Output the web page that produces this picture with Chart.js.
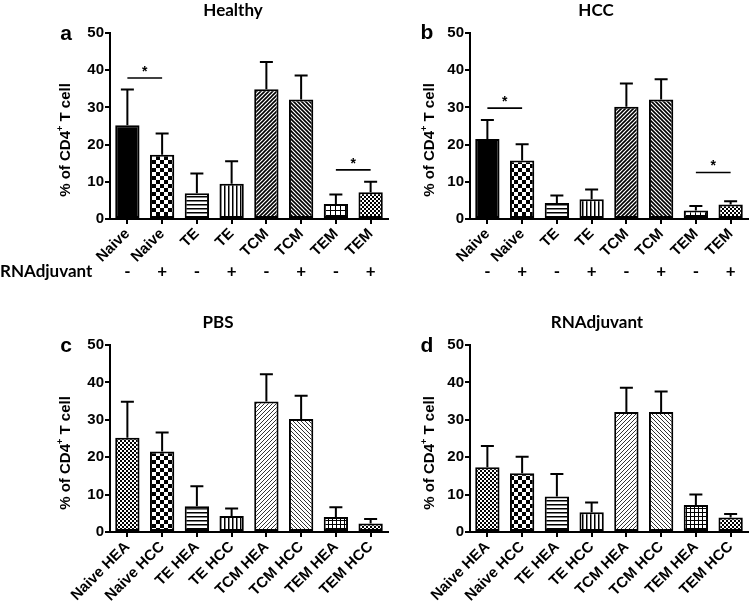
<!DOCTYPE html>
<html>
<head>
<meta charset="utf-8">
<script src="https://cdn.jsdelivr.net/npm/chart.js@4.4.1/dist/chart.umd.min.js"></script>
<style>
  html, body { margin: 0; padding: 0; background: #fff; }
  #wrap { position: relative; width: 751px; height: 601px; overflow: hidden; }
  canvas { position: absolute; }
</style>
</head>
<body>
<div id="wrap">
  <canvas id="panelA" style="left:0;top:0" width="400" height="300"></canvas>
  <canvas id="panelB" style="left:390px;top:0" width="361" height="300"></canvas>
  <canvas id="panelC" style="left:0;top:300px" width="400" height="301"></canvas>
  <canvas id="panelD" style="left:390px;top:300px" width="361" height="301"></canvas>
</div>
<script>
// mean and SD (% of CD4+ T cells), order: Naive, TE, TCM, TEM
const cellTypes = ['Naive', 'TE', 'TCM', 'TEM'];
const healthyPbsMean = [25.2, 6.9, 34.9, 4.0];
const healthyPbsSd = [9.6, 5.3, 7.3, 2.6];
const healthyRnaMean = [17.3, 9.5, 32.1, 7.2];
const healthyRnaSd = [5.7, 6.0, 6.5, 2.8];
const hccPbsMean = [21.5, 4.3, 30.2, 2.3];
const hccPbsSd = [5.1, 2.0, 6.2, 1.2];
const hccRnaMean = [15.7, 5.3, 32.1, 3.9];
const hccRnaSd = [4.4, 2.6, 5.5, 0.9];
const adjuvantSigns = ['-', '+'];
// significance bars: [from index, to index, height]
const sigHealthy = [[0, 1, 37.9], [6, 7, 13.2]];
const sigHcc = [[0, 1, 29.8], [6, 7, 12.5]];

const tickFont = 'Liberation Sans';
const titleFont = 'Lato';

function pairUp(a, b) {
    const out = [];
    a.forEach((v, i) => { out.push(v, b[i]); });
    return out;
}

function makePattern(size, draw) {
    const c = document.createElement('canvas');
    c.width = size; c.height = size;
    const g = c.getContext('2d');
    g.fillStyle = '#fff';
    g.fillRect(0, 0, size, size);
    g.fillStyle = '#000';
    g.strokeStyle = '#000';
    draw(g, size);
    return g.createPattern(c, 'repeat');
}

function diag(forward, width, color) {
    return makePattern(4, (g, s) => {
        g.strokeStyle = color;
        g.lineWidth = width;
        g.beginPath();
        if (forward) {
            g.moveTo(-1, s + 1); g.lineTo(s + 1, -1);
            g.moveTo(-1, 1); g.lineTo(1, -1);
            g.moveTo(s - 1, s + 1); g.lineTo(s + 1, s - 1);
        } else {
            g.moveTo(-1, -1); g.lineTo(s + 1, s + 1);
            g.moveTo(s - 1, -1); g.lineTo(s + 1, 1);
            g.moveTo(-1, s - 1); g.lineTo(1, s + 1);
        }
        g.stroke();
    });
}

const checkerBig = makePattern(8, g => { g.fillRect(0, 0, 4, 4); g.fillRect(4, 4, 4, 4); });
const checkerSmall = makePattern(4, g => { g.fillRect(0, 0, 2, 2); g.fillRect(2, 2, 2, 2); });
const hLines = makePattern(4, g => { g.fillRect(0, 0, 4, 1.5); });
const vLines = makePattern(4, g => { g.fillRect(0, 0, 1.5, 4); });
const grid = makePattern(5, g => { g.fillRect(0, 0, 5, 1); g.fillRect(0, 0, 1, 5); });
const gridDense = makePattern(4, g => { g.fillRect(0, 0, 4, 1); g.fillRect(0, 0, 1, 4); });

const fillsTop = ['#000', checkerBig, hLines, vLines, diag(true, 1.6, '#000'), diag(false, 1.6, '#000'), grid, checkerSmall];
const fillsBottom = [checkerSmall, checkerBig, hLines, vLines, diag(true, 1, '#333'), diag(false, 1, '#333'), gridDense, checkerSmall];

function annotations(cfg) {
    return {
        id: 'annotations',
        afterDatasetsDraw(chart) {
            const ctx = chart.ctx;
            const x = chart.scales.x, y = chart.scales.y;
            const ds = chart.data.datasets[0];
            ctx.save();
            ctx.strokeStyle = '#000';
            ctx.fillStyle = '#000';

            // error bars (upper only)
            ctx.lineWidth = 2;
            chart.getDatasetMeta(0).data.forEach((bar, i) => {
                const top = y.getPixelForValue(ds.data[i] + ds.errors[i]);
                ctx.beginPath();
                ctx.moveTo(bar.x, bar.y);
                ctx.lineTo(bar.x, top);
                ctx.moveTo(bar.x - 6.5, top);
                ctx.lineTo(bar.x + 6.5, top);
                ctx.stroke();
            });

            // significance bars
            ctx.lineWidth = 1.6;
            ctx.textAlign = 'center';
            ctx.textBaseline = 'middle';
            ctx.font = 'bold 14px "' + tickFont + '"';
            (cfg.sig || []).forEach(s => {
                const x1 = x.getPixelForValue(s[0]), x2 = x.getPixelForValue(s[1]);
                const yy = y.getPixelForValue(s[2]);
                ctx.beginPath();
                ctx.moveTo(x1, yy);
                ctx.lineTo(x2, yy);
                ctx.stroke();
                ctx.fillText('*', (x1 + x2) / 2, yy - 6);
            });

            // RNAdjuvant -/+ row
            if (cfg.signs) {
                ctx.font = 'bold 17px "' + titleFont + '"';
                ctx.textAlign = 'center';
                cfg.signs.forEach((t, i) => {
                    ctx.fillText(t, x.getPixelForValue(i), cfg.signsY);
                });
                if (cfg.rowLabel) {
                    ctx.textAlign = 'left';
                    ctx.fillText(cfg.rowLabel, 0, cfg.signsY);
                }
            }

            // panel title and letter
            ctx.textAlign = 'center';
            ctx.font = 'bold 17px "' + titleFont + '"';
            ctx.fillText(cfg.title, cfg.titleX, cfg.titleY);
            ctx.font = 'bold 21px "' + tickFont + '"';
            ctx.fillText(cfg.letter, cfg.letterX, cfg.letterY);

            // y axis title with superscript
            ctx.translate(cfg.yTitleX, cfg.yTitleY);
            ctx.rotate(-Math.PI / 2);
            ctx.textAlign = 'left';
            const big = 'bold 15px "' + tickFont + '"', small = 'bold 9px "' + tickFont + '"';
            ctx.font = big;
            const p1 = '% of CD4', p2 = ' T cell';
            const w1 = ctx.measureText(p1).width, w2 = ctx.measureText(p2).width;
            ctx.font = small;
            const ws = ctx.measureText('+').width;
            let sx = -(w1 + ws + w2) / 2;
            ctx.font = big;
            ctx.fillText(p1, sx, 0);
            sx += w1;
            ctx.font = small;
            ctx.fillText('+', sx, -5);
            sx += ws;
            ctx.font = big;
            ctx.fillText(p2, sx, 0);
            ctx.restore();
        }
    };
}

function makePanel(id, labels, values, errors, fills, cfg) {
    const ctx = document.getElementById(id).getContext('2d');
    return new Chart(ctx, {
        type: 'bar',
        data: {
            labels: labels,
            datasets: [{
                data: values,
                errors: errors,
                backgroundColor: fills,
                borderColor: '#000',
                borderWidth: 2,
                borderSkipped: false,
                barPercentage: 0.7,
                categoryPercentage: 1.0
            }]
        },
        options: {
            responsive: false,
            animation: false,
            layout: { padding: cfg.padding },
            plugins: { legend: { display: false }, tooltip: { enabled: false } },
            scales: {
                x: {
                    offset: true,
                    ticks: {
                        color: '#000',
                        font: { family: tickFont, weight: 'bold', size: 15 },
                        minRotation: 45, maxRotation: 45, autoSkip: false, padding: 1
                    },
                    grid: { drawOnChartArea: false, offset: false, color: '#000', lineWidth: 2, tickLength: 5 },
                    border: { color: '#000', width: 2 },
                    afterFit(s) { s.height = cfg.xHeight; }
                },
                y: {
                    min: 0,
                    max: 50,
                    ticks: {
                        stepSize: 10, color: '#000', padding: 1,
                        font: { family: tickFont, weight: 'bold', size: 15 }
                    },
                    grid: { drawOnChartArea: false, color: '#000', lineWidth: 2, tickLength: 5 },
                    border: { color: '#000', width: 2 },
                    afterFit(s) { s.width = cfg.yWidth; }
                }
            }
        },
        plugins: [annotations(cfg)]
    });
}

document.fonts.load('bold 16px "Lato"').then(draw, draw);

function draw() {
    const topLabels = pairUp(cellTypes, cellTypes);
    const bottomLabels = pairUp(cellTypes.map(c => c + ' HEA'), cellTypes.map(c => c + ' HCC'));
    const signs = pairUp(cellTypes.map(() => adjuvantSigns[0]), cellTypes.map(() => adjuvantSigns[1]));

    makePanel('panelA', topLabels, pairUp(healthyPbsMean, healthyRnaMean), pairUp(healthyPbsSd, healthyRnaSd), fillsTop, {
        padding: { left: 0, top: 33, right: 12, bottom: 0 }, yWidth: 110, xHeight: 81,
        title: 'Healthy', titleX: 233, titleY: 11, letter: 'a', letterX: 66, letterY: 34,
        yTitleX: 66, yTitleY: 140, sig: sigHealthy, signs: signs, signsY: 272, rowLabel: 'RNAdjuvant'
    });
    makePanel('panelB', topLabels, pairUp(hccPbsMean, hccRnaMean), pairUp(hccPbsSd, hccRnaSd), fillsTop, {
        padding: { left: 0, top: 33, right: 3, bottom: 0 }, yWidth: 80, xHeight: 81,
        title: 'HCC', titleX: 206, titleY: 11, letter: 'b', letterX: 37, letterY: 33,
        yTitleX: 40, yTitleY: 140, sig: sigHcc, signs: signs, signsY: 272
    });
    makePanel('panelC', bottomLabels, pairUp(healthyPbsMean, hccPbsMean), pairUp(healthyPbsSd, hccPbsSd), fillsBottom, {
        padding: { left: 0, top: 45, right: 12, bottom: 0 }, yWidth: 110, xHeight: 69,
        title: 'PBS', titleX: 218, titleY: 23, letter: 'c', letterX: 66, letterY: 46,
        yTitleX: 66, yTitleY: 153
    });
    makePanel('panelD', bottomLabels, pairUp(healthyRnaMean, hccRnaMean), pairUp(healthyRnaSd, hccRnaSd), fillsBottom, {
        padding: { left: 0, top: 45, right: 3, bottom: 0 }, yWidth: 80, xHeight: 69,
        title: 'RNAdjuvant', titleX: 207, titleY: 23, letter: 'd', letterX: 37, letterY: 46,
        yTitleX: 40, yTitleY: 153
    });
}
</script>
</body>
</html>
